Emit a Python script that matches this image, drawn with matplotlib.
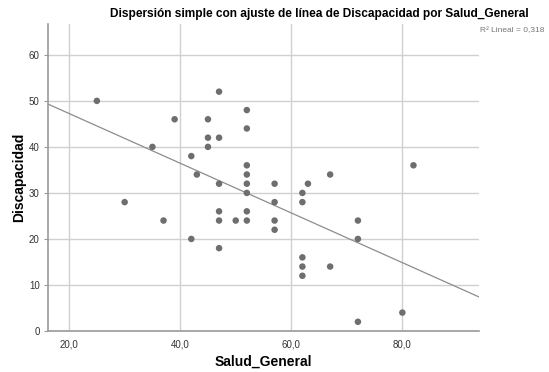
import numpy as np
import matplotlib
matplotlib.use("Agg")
import matplotlib.pyplot as plt

plt.rcParams['font.family'] = ['Liberation Sans', 'DejaVu Sans']

# Salud_General vs Discapacidad
salud_general = [25, 30, 35, 37, 39, 42, 42, 43, 45, 45, 45, 47, 47, 47, 47, 47, 47,
                 50, 52, 52, 52, 52, 52, 52, 52, 52, 57, 57, 57, 57, 62, 62, 62, 62,
                 62, 63, 67, 67, 72, 72, 72, 80, 82]
discapacidad = [50, 28, 40, 24, 46, 38, 20, 34, 46, 42, 40, 52, 42, 32, 26, 24, 18,
                24, 48, 44, 36, 34, 32, 30, 26, 24, 32, 28, 24, 22, 30, 28, 16, 14,
                12, 32, 34, 14, 24, 20, 2, 4, 36]
x_ticks = [20, 40, 60, 80]
y_ticks = [0, 10, 20, 30, 40, 50, 60]

# fitted line as shown in the chart (some points overlap, so read it off)
fit_slope = -0.54
fit_intercept = 58.05
r2_text = 'R² Lineal = 0,318'

x = np.array(salud_general, dtype=float)
y = np.array(discapacidad, dtype=float)

fig = plt.figure(figsize=(5.49, 3.72), dpi=100)
ax = fig.add_axes([48 / 549, 1 - 331 / 372, (479 - 48) / 549, (331 - 24) / 372])

xlim = (16.2, 93.8)
ax.set_xlim(*xlim)
ax.set_ylim(0, 66.7)

ax.grid(True, color='#d0d0d0', linewidth=1.0)
ax.set_axisbelow(True)

xx = np.array(xlim)
ax.plot(xx, fit_intercept + fit_slope * xx, color='#8c8c8c', linewidth=0.9, zorder=2)
ax.scatter(x, y, s=22, color='#6e6e6e', edgecolors='none', zorder=3)

ax.set_xticks(x_ticks)
ax.set_xticklabels([f"{t:.1f}".replace('.', ',') for t in x_ticks])
ax.set_yticks(y_ticks)
ax.tick_params(axis='both', labelsize=7, colors='#333333', length=0, pad=6)
ax.tick_params(axis='y', length=3, direction='out', color='#999999', pad=3)

for side in ['top', 'right']:
    ax.spines[side].set_visible(False)
for side in ['left', 'bottom']:
    ax.spines[side].set_color('#9a9a9a')
    ax.spines[side].set_linewidth(1.2)

ax.set_xlabel('Salud_General', fontsize=10, fontweight='bold', labelpad=4)
ax.set_ylabel('Discapacidad', fontsize=10, fontweight='bold', labelpad=2)

fig.text(319.5 / 549, 1 - 14 / 372,
         'Dispersión simple con ajuste de línea de Discapacidad por Salud_General',
         ha='center', va='center', fontsize=8.6, fontweight='bold')
fig.text(544 / 549, 1 - 31 / 372, r2_text,
         ha='right', va='center', fontsize=6, color='#777777')

fig.savefig('out.png', dpi=100)
